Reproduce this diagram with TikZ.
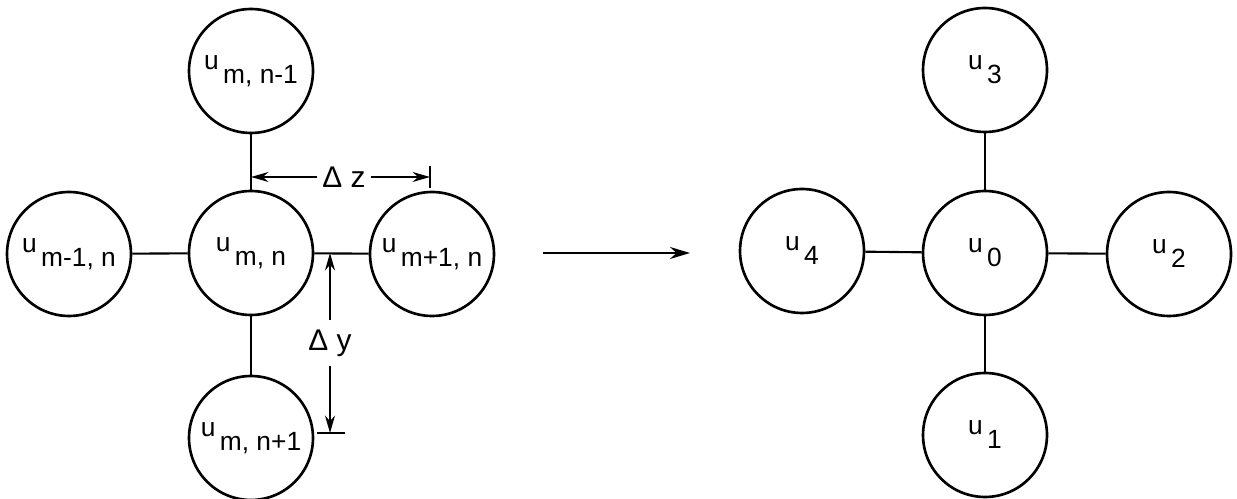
\documentclass[tikz,border=0pt]{standalone}
\usepackage{fontspec}
\setmainfont{Liberation Sans}
\usetikzlibrary{arrows.meta}
\newcommand{\usub}[2]{#1\raisebox{-1ex}{\,#2}}
\begin{document}
\begin{tikzpicture}[
    x=0.02cm, y=-0.02cm,
    cell/.style={circle, draw, line width=1.5pt, minimum size=2.48cm,
      inner sep=0pt, font=\fontsize{15}{17}\selectfont},
    link/.style={line width=1.2pt},
    dim/.style={line width=0.8pt, -{Stealth[length=3.5mm,width=2mm]}},
    lbl/.style={font=\fontsize{17}{19}\selectfont, inner sep=3pt}
  ]
  \useasboundingbox (0,0) rectangle (1237,499);

  % Stencil with (m,n) indices
  \node[cell] (c) at (251,253) {\usub{u}{m, n}};
  \node[cell] (t) at (251,71)  {\usub{u}{m, n-1}};
  \node[cell] (l) at (69,254)  {\usub{u}{m-1, n}};
  \node[cell] (r) at (432,254) {\usub{u}{m+1, n}};
  \node[cell] (b) at (251,438) {\usub{u}{m, n+1}};
  \draw[link] (c) -- (t);
  \draw[link] (c) -- (l);
  \draw[link] (c) -- (r);
  \draw[link] (c) -- (b);

  % Spacings
  \coordinate (dzL) at (251,177);
  \coordinate (dzR) at (430,177);
  \node[lbl] (dz) at (344,177) {Δ z};
  \draw[dim] (dz) -- (dzL);
  \draw[dim] (dz) -- (dzR);
  \draw[line width=0.8pt] (dzR) ++(0,-11) -- ++(0,22);
  \coordinate (dyT) at (330,253);
  \coordinate (dyB) at (330,433);
  \node[lbl, inner sep=5pt] (dy) at (330,343) {Δ y};
  \draw[dim] (dy) -- (dyT);
  \draw[dim] (dy) -- (dyB);
  \draw[line width=0.8pt] (dyB) ++(-13,0) -- ++(28,0);

  % Mapping arrow
  \coordinate (a1) at (543,253);
  \coordinate (a2) at (690,253);
  \draw[link, -{Stealth[length=4mm,width=2.4mm]}] (a1) -- (a2);

  % Stencil with local numbering
  \node[cell] (c2) at (985,253) {\usub{u}{0}};
  \node[cell] (t2) at (985,70)  {\usub{u}{3}};
  \node[cell] (l2) at (802,251) {\usub{u}{4}};
  \node[cell] (r2) at (1169,254) {\usub{u}{2}};
  \node[cell] (b2) at (985,435) {\usub{u}{1}};
  \draw[link] (c2) -- (t2);
  \draw[link] (c2) -- (l2);
  \draw[link] (c2) -- (r2);
  \draw[link] (c2) -- (b2);
\end{tikzpicture}
\end{document}
